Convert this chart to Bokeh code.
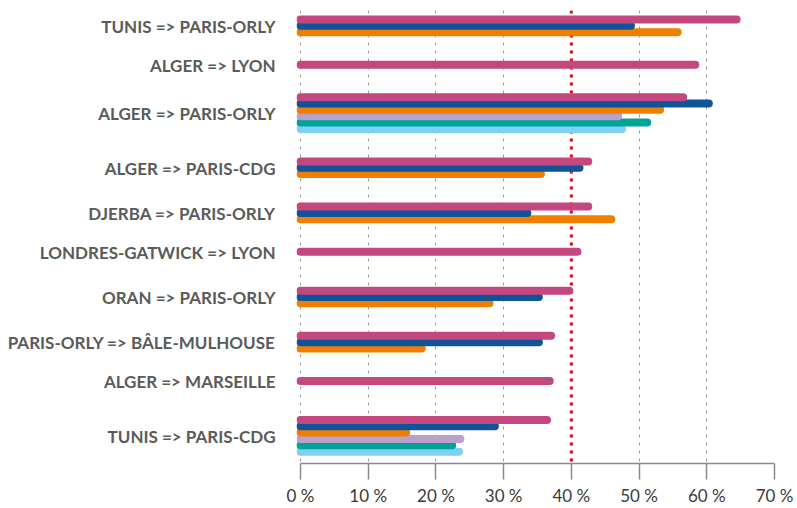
from bokeh.plotting import figure
from bokeh.models import Range1d, FixedTicker, Span, ColumnDataSource
from bokeh.embed import file_html
from bokeh.resources import INLINE

# ---------------- data ----------------
categories = [
    "TUNIS => PARIS-ORLY",
    "ALGER => LYON",
    "ALGER => PARIS-ORLY",
    "ALGER => PARIS-CDG",
    "DJERBA => PARIS-ORLY",
    "LONDRES-GATWICK => LYON",
    "ORAN => PARIS-ORLY",
    "PARIS-ORLY => BÂLE-MULHOUSE",
    "ALGER => MARSEILLE",
    "TUNIS => PARIS-CDG",
]
series_1 = [64.4, 58.3, 56.5, 42.5, 42.5, 40.9, 39.7, 37.0, 36.8, 36.4]
series_2 = [48.8, None, 60.3, 41.2, 33.5, None, 35.2, 35.2, None, 28.7]
series_3 = [55.7, None, 53.1, 35.5, 45.9, None, 27.9, 17.9, None, 15.6]
series_4 = [None, None, 46.9, None, None, None, None, None, None, 23.6]
series_5 = [None, None, 51.2, None, None, None, None, None, None, 22.4]
series_6 = [None, None, 47.5, None, None, None, None, None, None, 23.4]
threshold = 40
x_ticks = [0, 10, 20, 30, 40, 50, 60, 70]
x_tick_labels = ["0 %", "10 %", "20 %", "30 %", "40 %", "50 %", "60 %", "70 %"]

# ---------------- styles / layout ----------------
all_series = [series_1, series_2, series_3, series_4, series_5, series_6]
colors = ["#C2487F", "#0F5499", "#F07F00", "#B9A1CB", "#00A398", "#80CFF5"]
extra_slots = [0, 0, 0, 0, 0, 1, 0, 0, 1, 0]  # empty reserved slots in group
SLOT = 6.4
GAP = 26.3
FIRST = 9.0

# compute bar positions (pixel-like units from frame top)
bar_pos = [[None] * len(categories) for _ in all_series]
label_pos = []
cursor = FIRST
for ci in range(len(categories)):
    k = 0
    drawn = []
    for si, s in enumerate(all_series):
        if s[ci] is not None:
            y = cursor + k * SLOT
            bar_pos[si][ci] = y
            drawn.append(y)
            k += 1
    label_pos.append(sum(drawn) / len(drawn) + 0.5)
    cursor += (k + extra_slots[ci]) * SLOT + GAP

W, H = 797, 508
LEFT, RIGHT = 296, 23
frame_w = W - LEFT - RIGHT
pad = 4.0  # px of room left of zero so the rounded caps are not clipped
x_start = -pad * 70 / (frame_w - pad)

p = figure(width=W, height=H, output_backend="svg", toolbar_location=None,
           x_range=Range1d(x_start, 70), y_range=Range1d(456, 0))
p.min_border_left = LEFT
p.min_border_right = RIGHT
p.min_border_top = 10
p.min_border_bottom = 42
p.outline_line_color = None
p.background_fill_color = "white"
p.border_fill_color = "white"

# grid
p.ygrid.grid_line_color = None
p.xgrid.ticker = FixedTicker(ticks=x_ticks)
p.xgrid.grid_line_color = "#9a9a9a"
p.xgrid.grid_line_width = 1
p.xgrid.grid_line_dash = "3 5"

# threshold line
p.add_layout(Span(location=threshold, dimension="height", line_color="#E30613",
                  line_width=3, line_dash="3 5", level="underlay"))

# bars (drawn last series first so earlier series sit on top)
for si in reversed(range(len(all_series))):
    xs1, ys = [], []
    for ci, v in enumerate(all_series[si]):
        if v is not None:
            xs1.append(v)
            ys.append(bar_pos[si][ci])
    src = ColumnDataSource(dict(x0=[0] * len(xs1), x1=xs1, y=ys))
    p.segment(x0="x0", y0="y", x1="x1", y1="y", source=src,
              line_color=colors[si], line_width=8, line_cap="round")

# x axis
xa = p.xaxis[0]
xa.ticker = FixedTicker(ticks=x_ticks)
xa.bounds = (0, 70)
xa.major_label_overrides = {t: l for t, l in zip(x_ticks, x_tick_labels)}
xa.axis_line_color = "#8a8a8a"
xa.axis_line_width = 1.5
xa.major_tick_line_color = "#8a8a8a"
xa.major_tick_line_width = 1.5
xa.major_tick_in = 0
xa.major_tick_out = 16
xa.minor_tick_line_color = None
xa.major_label_standoff = 5
xa.major_label_text_font = "Lato"
xa.major_label_text_font_size = "17px"
xa.major_label_text_color = "#3a3a3a"

# y axis
ya = p.yaxis[0]
ya.ticker = FixedTicker(ticks=label_pos)
ya.major_label_overrides = {y: c for y, c in zip(label_pos, categories)}
ya.axis_line_color = None
ya.major_tick_line_color = None
ya.minor_tick_line_color = None
ya.major_tick_in = 0
ya.major_tick_out = 0
ya.major_label_standoff = 21
ya.major_label_text_font = "Lato"
ya.major_label_text_font_style = "bold"
ya.major_label_text_font_size = "17px"
ya.major_label_text_color = "#5a5a5a"

open("out.html", "w").write(file_html(p, INLINE))
